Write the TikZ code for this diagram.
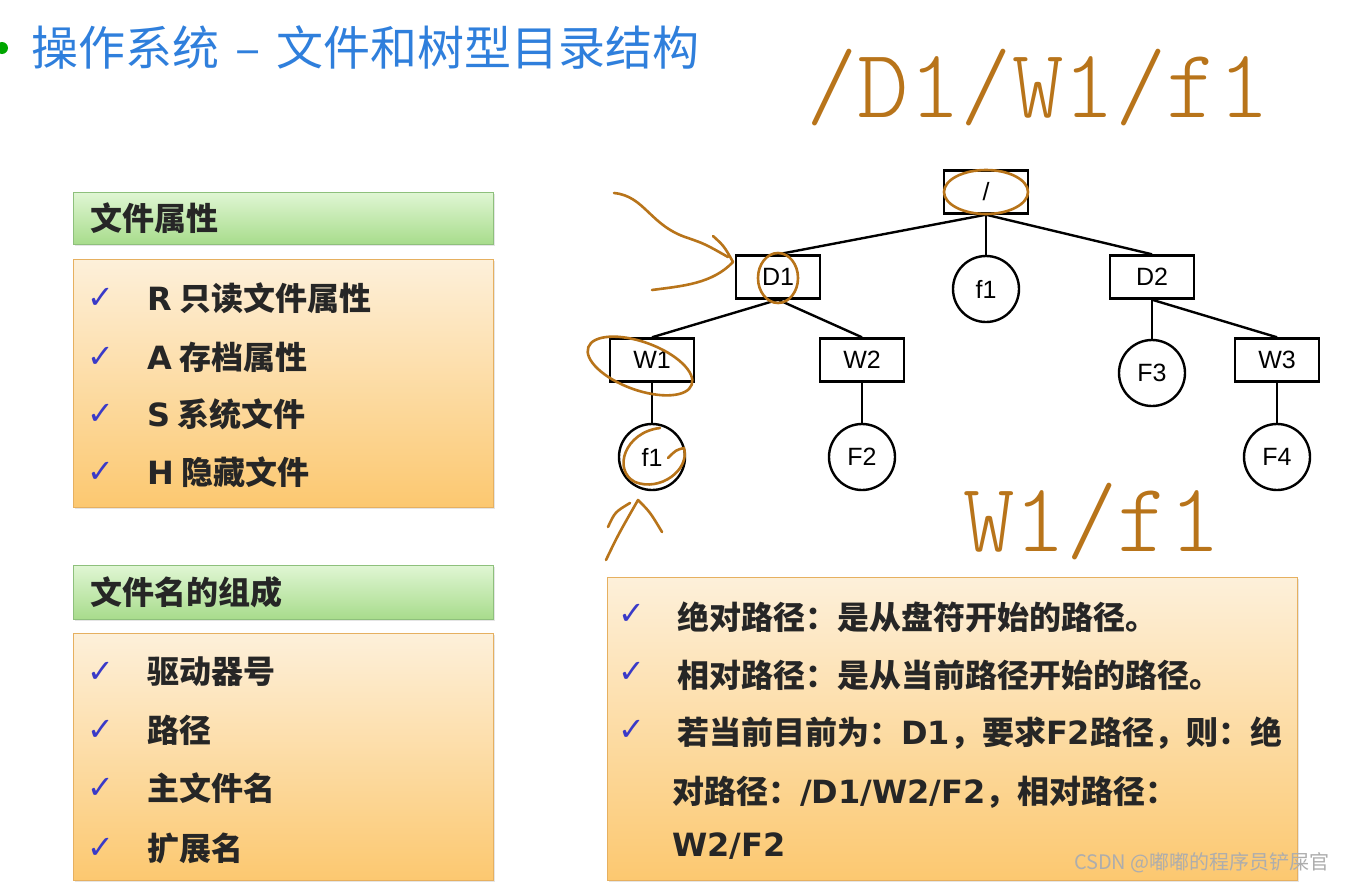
\documentclass[tikz,border=0pt]{standalone}
\usepackage{fontspec}
\setmainfont{Noto Sans CJK SC}
\newfontfamily\treefont{Liberation Sans}
\newfontfamily\symfont{DejaVu Sans}
\newfontfamily\latfont{DejaVu Sans}
\newfontfamily\handfont{lmmonolt10-regular}[Extension=.otf]
\newcommand\wlat[1]{{\latfont #1}}
\usetikzlibrary{shadows}
\definecolor{ink}{HTML}{B8741A}
\definecolor{titleblue}{HTML}{2F7FDC}
\definecolor{tickblue}{HTML}{3A3AC8}
\definecolor{greentop}{HTML}{E0F6D4}
\definecolor{greenbot}{HTML}{A8DC8C}
\definecolor{greenline}{HTML}{8EC07C}
\definecolor{orangetop}{HTML}{FDF0DA}
\definecolor{orangebot}{HTML}{FCC870}
\definecolor{orangeline}{HTML}{E6B060}

\begin{document}
\begin{tikzpicture}[
  x=1pt, y=-1pt,
  dir/.style={draw, line width=2.4pt, minimum width=84pt, minimum height=43pt,
    inner sep=0pt, font=\treefont\fontsize{25}{25}\selectfont},
  file/.style={draw, circle, line width=2.4pt, minimum size=66pt, inner sep=0pt,
    font=\treefont\fontsize{25}{25}\selectfont},
  edge/.style={line width=2.4pt},
  headbox/.style={top color=greentop, bottom color=greenbot, draw=greenline,
    line width=1pt, drop shadow={opacity=0.2, shadow xshift=2pt, shadow yshift=-2pt}},
  itembox/.style={top color=orangetop, bottom color=orangebot, draw=orangeline,
    line width=1pt, drop shadow={opacity=0.2, shadow xshift=2pt, shadow yshift=-2pt}},
  headtext/.style={anchor=west, inner sep=0pt, font=\bfseries\fontsize{32}{32}\selectfont, text=black!85},
  itemtext/.style={anchor=west, inner sep=0pt, font=\bfseries\fontsize{32}{32}\selectfont, text=black!85},
  tick/.style={inner sep=0pt, font=\symfont\fontsize{32}{32}\selectfont, text=tickblue},
  hand/.style={inner sep=0pt, font=\handfont\fontsize{98}{98}\selectfont, text=ink},
  pen/.style={draw=ink, line width=2.6pt, line cap=round, line join=round}
]
\useasboundingbox [fill=white] (0,0) rectangle (1345,886);

% title
\fill [green!65!black] (2,48) circle [radius=6];
\node [anchor=west, inner sep=0pt, text=titleblue, font=\fontsize{47}{47}\selectfont] (title) at (31,48) {操作系统\hspace{16pt}–\hspace{16pt}文件和树型目录结构};

% left boxes
\path [headbox] (73,192) rectangle (493,244);
\node [headtext] (attrhead) at (90,218) {文件属性};
\path [itembox] (73,259) rectangle (493,507);
\node [tick] (t1) at (101,298) {✓};
\node [itemtext] (a1) at (147,298) {\wlat{R} 只读文件属性};
\node [tick] (t2) at (101,357) {✓};
\node [itemtext] (a2) at (147,357) {\wlat{A} 存档属性};
\node [tick] (t3) at (101,414) {✓};
\node [itemtext] (a3) at (147,414) {\wlat{S} 系统文件};
\node [tick] (t4) at (101,472) {✓};
\node [itemtext] (a4) at (147,472) {\wlat{H} 隐藏文件};

\path [headbox] (73,565) rectangle (493,619);
\node [headtext] (namehead) at (90,592) {文件名的组成};
\path [itembox] (73,633) rectangle (493,880);
\node [tick] (t5) at (101,672) {✓};
\node [itemtext] (n1) at (147,672) {驱动器号};
\node [tick] (t6) at (101,730) {✓};
\node [itemtext] (n2) at (147,730) {路径};
\node [tick] (t7) at (101,788) {✓};
\node [itemtext] (n3) at (147,788) {主文件名};
\node [tick] (t8) at (101,848) {✓};
\node [itemtext] (n4) at (147,848) {扩展名};

% path box
\path [itembox] (607,577) rectangle (1297,880);
\node [tick] (t9) at (632,614) {✓};
\node [itemtext] (p1) at (677,617) {绝对路径：是从盘符开始的路径。};
\node [tick] (t10) at (632,672) {✓};
\node [itemtext] (p2) at (677,675) {相对路径：是从当前路径开始的路径。};
\node [tick] (t11) at (632,730) {✓};
\node [itemtext] (p3) at (677,733) {若当前目前为：\wlat{D1}，要求\wlat{F2}路径，则：绝};
\node [itemtext] (p4) at (672,792) {对路径：\wlat{/D1/W2/F2}，相对路径：};
\node [itemtext] (p5) at (672,846) {\wlat{W2/F2}};

% tree
\node [dir] (root) at (986,192) {/};
\node [dir] (D1) at (778,277) {D1};
\node [file] (f1) at (986,289) {f1};
\node [dir] (D2) at (1152,277) {D2};
\node [dir] (W1) at (652,360) {W1};
\node [dir] (W2) at (862,360) {W2};
\node [file] (F3) at (1152,373) {F3};
\node [dir] (W3) at (1277,360) {W3};
\node [file] (f1b) at (652,457) {f1};
\node [file] (F2) at (862,457) {F2};
\node [file] (F4) at (1277,457) {F4};
\draw [edge] (root.south) -- (D1.north);
\draw [edge] (root) -- (f1);
\draw [edge] (root.south) -- (D2.north);
\draw [edge] (D1.south) -- (W1.north);
\draw [edge] (D1.south) -- (W2.north);
\draw [edge] (D2) -- (F3);
\draw [edge] (D2.south) -- (W3.north);
\draw [edge] (W1) -- (f1b);
\draw [edge] (W2) -- (F2);
\draw [edge] (W3) -- (F4);

% pen marks
\node [hand] (abspath) at (1038,88) {/D1/W1/f1};
\node [hand] (relpath) at (1092,522) {W1/f1};
\draw [pen] (root) ellipse [x radius=42, y radius=22];
\draw [pen] (778,278) ellipse [x radius=20, y radius=25];
\draw [pen, rotate around={-20:(640,366)}] (640,366) ellipse [x radius=55, y radius=24];
\draw [pen] (660,428) .. controls (625,432) and (612,470) .. (635,482)
  .. controls (660,492) and (690,470) .. (684,448) .. controls (676,450) .. (668,458);
\draw [pen] (614,193) .. controls (645,196) and (650,226) .. (688,238)
  .. controls (705,244) .. (728,257);
\draw [pen] (713,236) .. controls (724,246) .. (733,262)
  .. controls (712,284) and (682,286) .. (652,290);
\draw [pen] (606,560) .. controls (618,535) .. (638,500) .. controls (650,512) .. (662,532);
\draw [pen] (608,527) .. controls (615,512) .. (630,503);

% watermark
\node [anchor=east, inner sep=0pt, text=black!32, font=\fontsize{20}{20}\selectfont] (mark) at (1330,863) {CSDN @嘟嘟的程序员铲屎官};
\end{tikzpicture}
\end{document}
